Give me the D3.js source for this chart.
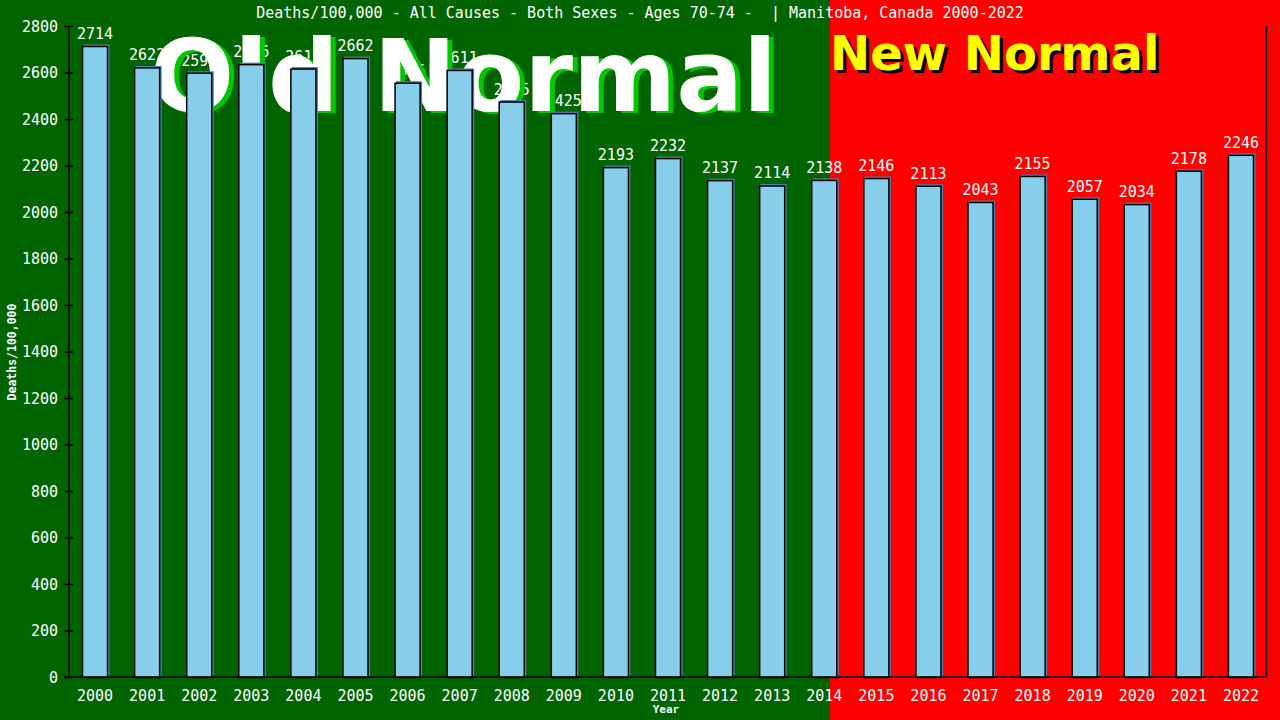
<!DOCTYPE html>
<html><head><meta charset="utf-8">
<script src="https://cdn.jsdelivr.net/npm/d3@7"></script>
<style>body{margin:0;background:#006400;}svg{display:block;}</style>
</head><body>
<svg id="c" width="1280" height="720"></svg>
<script>
const years = ["2000","2001","2002","2003","2004","2005","2006","2007","2008","2009","2010","2011","2012","2013","2014","2015","2016","2017","2018","2019","2020","2021","2022"];
const deaths = [2714,2622,2599,2636,2617,2662,2556,2611,2475,2425,2193,2232,2137,2114,2138,2146,2113,2043,2155,2057,2034,2178,2246];
const yTicks = [0,200,400,600,800,1000,1200,1400,1600,1800,2000,2200,2400,2600,2800];
const titleText = "Deaths/100,000 - All Causes - Both Sexes - Ages 70-74 -  | Manitoba, Canada 2000-2022";
const yLabel = "Deaths/100,000";
const xLabel = "Year";
const oldLabel = "Old Normal";
const newLabel = "New Normal";
const newStartYear = "2014";

const W = 1280, H = 720;
const m = {l:69, r:13, t:26, b:43};
const svg = d3.select("#c");
const mono = "'DejaVu Sans Mono', monospace";

const x = d3.scaleBand().domain(years).range([m.l, W - m.r]).paddingInner(0.5).paddingOuter(0.25);
const y = d3.scaleLinear().domain([0, 2800]).range([H - m.b, m.t]);

const split = x(newStartYear) + x.bandwidth() * 0.72;

svg.append("rect").attr("x",0).attr("y",0).attr("width",W).attr("height",H).attr("fill","#006400");
svg.append("rect").attr("x",split).attr("y",0).attr("width",W-split).attr("height",H).attr("fill","#ff0000");

// Value labels (drawn beneath the big banner text, as in the reference)
svg.append("g").selectAll("text.val").data(years).join("text").attr("class","val")
  .attr("x", d => x(d) + x.bandwidth()/2).attr("y", (d,i) => y(deaths[i]) - 7)
  .attr("text-anchor","middle").attr("font-family",mono).attr("font-size",15)
  .attr("fill","#fff").text((d,i) => deaths[i]);

// Big labels
const bold = "'DejaVu Sans', sans-serif";
svg.append("text").attr("x",155).attr("y",113).attr("font-family",bold).attr("font-weight","bold")
  .attr("font-size",99).attr("fill","#00c800").text(oldLabel);
svg.append("text").attr("x",150).attr("y",111).attr("font-family",bold).attr("font-weight","bold")
  .attr("font-size",99).attr("fill","#ffffff").text(oldLabel);
svg.append("text").attr("x",split+3).attr("y",73).attr("font-family",bold).attr("font-weight","bold")
  .attr("font-size",48).attr("fill","#000000").text(newLabel);
svg.append("text").attr("x",split).attr("y",70).attr("font-family",bold).attr("font-weight","bold")
  .attr("font-size",48).attr("fill","#ffff00").text(newLabel);

// Bars
const g = svg.append("g");
g.selectAll("rect.sh").data(years).join("rect").attr("class","sh")
  .attr("x", d => x(d) + 1.5).attr("y", (d,i) => y(deaths[i]) - 1.5)
  .attr("width", x.bandwidth()).attr("height", (d,i) => y(0) - y(deaths[i]) + 1.5)
  .attr("fill","#4682b4");
g.selectAll("rect.bar").data(years).join("rect").attr("class","bar")
  .attr("x", d => x(d) + 0.5).attr("y", (d,i) => y(deaths[i]) + 0.5)
  .attr("width", x.bandwidth() - 1).attr("height", (d,i) => y(0) - y(deaths[i]))
  .attr("fill","#87ceeb").attr("stroke","#000").attr("stroke-width",1.5);

// Axes
const yAxis = d3.axisLeft(y).tickValues(yTicks).tickSize(5).tickPadding(6).tickFormat(d3.format("d"));
const ya = svg.append("g").attr("transform",`translate(${m.l},0)`).call(yAxis);
ya.select(".domain").attr("stroke","#000").attr("stroke-width",1.5).attr("d",`M0,${m.t}V${H-m.b}`);
ya.selectAll(".tick line").attr("stroke","#000").attr("stroke-width",1.5).attr("x1",4);
ya.selectAll(".tick text").attr("fill","#fff").attr("font-family",mono).attr("font-size",15).attr("dy","0.35em");

const xAxis = d3.axisBottom(x).tickSize(0).tickPadding(13);
const xa = svg.append("g").attr("transform",`translate(0,${H-m.b})`).call(xAxis);
xa.select(".domain").attr("stroke","#000").attr("stroke-width",1.5).attr("d",`M${m.l-5},0H${W-m.r}`);
xa.selectAll(".tick text").attr("fill","#fff").attr("font-family",mono).attr("font-size",15);

svg.append("line").attr("x1",W-m.r-0.5).attr("x2",W-m.r-0.5).attr("y1",m.t).attr("y2",H-m.b)
  .attr("stroke","#000").attr("stroke-width",1.5);

// Titles
svg.append("text").attr("x",640).attr("y",18).attr("text-anchor","middle").attr("font-family",mono)
  .attr("font-size",15).attr("fill","#fff").attr("xml:space","preserve").style("white-space","pre").text(titleText);
svg.append("text").attr("transform",`translate(16,352) rotate(-90)`).attr("text-anchor","middle")
  .attr("font-family",mono).attr("font-weight","bold").attr("font-size",11.5).attr("fill","#fff").text(yLabel);
svg.append("text").attr("x",666).attr("y",713).attr("text-anchor","middle")
  .attr("font-family",mono).attr("font-weight","bold").attr("font-size",11).attr("fill","#fff").text(xLabel);
</script>
</body></html>
